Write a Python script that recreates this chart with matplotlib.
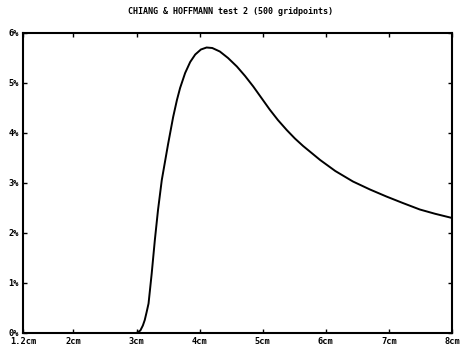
import matplotlib
matplotlib.use("Agg")
import matplotlib.pyplot as plt

title = "CHIANG & HOFFMANN test 2 (500 gridpoints)"
x_cm = [1.2, 2.95, 3.0, 3.06, 3.1, 3.13, 3.16, 3.19, 3.24, 3.29, 3.34, 3.40, 3.45, 3.50,
        3.58, 3.64, 3.69, 3.77, 3.85, 3.93, 4.02, 4.11, 4.20, 4.32, 4.45, 4.59, 4.72,
        4.85, 4.98, 5.11, 5.24, 5.38, 5.51, 5.64, 5.78, 5.91, 6.15, 6.43, 6.70, 6.96,
        7.22, 7.49, 7.73, 7.97, 8.0]
y_pct = [0.0, 0.0, 0.0, 0.05, 0.15, 0.26, 0.42, 0.59, 1.19, 1.86, 2.46, 3.06, 3.42, 3.78,
         4.32, 4.66, 4.90, 5.20, 5.42, 5.57, 5.67, 5.71, 5.70, 5.63, 5.50, 5.33, 5.14,
         4.93, 4.70, 4.47, 4.26, 4.06, 3.89, 3.74, 3.595, 3.46, 3.24, 3.03, 2.87, 2.73,
         2.60, 2.47, 2.385, 2.31, 2.30]
xticks = [1.2, 2, 3, 4, 5, 6, 7, 8]
xticklabels = ["1.2cm", "2cm", "3cm", "4cm", "5cm", "6cm", "7cm", "8cm"]
yticks = [0, 1, 2, 3, 4, 5, 6]
yticklabels = ["0%", "1%", "2%", "3%", "4%", "5%", "6%"]

fig = plt.figure(figsize=(4.62, 3.55), dpi=100)
ax = fig.add_axes([23/462, 22/355, (452-23)/462, (333-33)/355])
ax.plot(x_cm, y_pct, color="black", lw=1.4, solid_joinstyle="round")
ax.set_xlim(1.2, 8)
ax.set_ylim(0, 6)
ax.set_xticks(xticks)
ax.set_xticklabels(xticklabels)
ax.set_yticks(yticks)
ax.set_yticklabels(yticklabels)
for lab in ax.get_xticklabels() + ax.get_yticklabels():
    lab.set_fontfamily("DejaVu Sans Mono")
    lab.set_fontweight("bold")
    lab.set_fontsize(6.2)
ax.tick_params(direction="in", length=3, width=1, top=True, right=True, pad=3)
for s in ax.spines.values():
    s.set_linewidth(1.5)
fig.text(0.5, 1 - 12/355, title, ha="center", va="center",
         fontfamily="DejaVu Sans Mono", fontweight="bold", fontsize=6)
fig.savefig("out.png", dpi=100)
